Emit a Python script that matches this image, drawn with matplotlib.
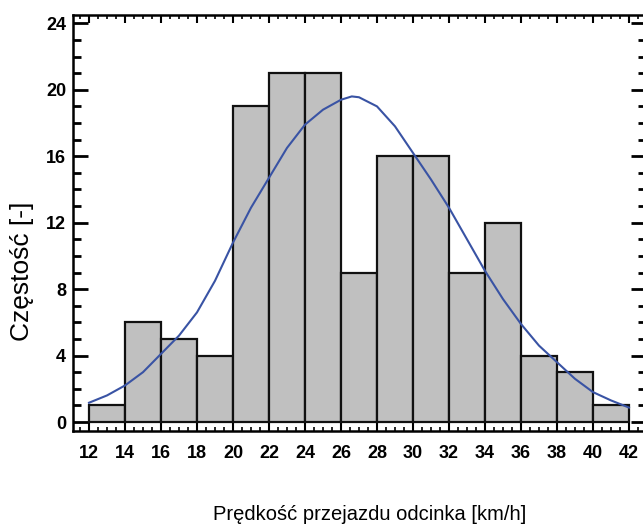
import numpy as np
import matplotlib
matplotlib.use('Agg')
import matplotlib.pyplot as plt
from matplotlib.ticker import MultipleLocator

plt.rcParams['font.family'] = ['Liberation Sans', 'DejaVu Sans']

# Histogram data
bin_edges = [12, 14, 16, 18, 20, 22, 24, 26, 28, 30, 32, 34, 36, 38, 40, 42]
counts = [1, 6, 5, 4, 19, 21, 21, 9, 16, 16, 9, 12, 4, 3, 1]

# Fitted curve
curve_x = [12, 13, 14, 15, 16, 17, 18, 19, 20, 21, 22, 23, 24, 25, 26, 26.6, 27,
           28, 29, 30, 31, 32, 33, 34, 35, 36, 37, 38, 39, 40, 41, 42]
curve_y = [1.16, 1.6, 2.2, 3.0, 4.1, 5.2, 6.6, 8.5, 10.8, 12.9, 14.7, 16.5,
           17.9, 18.8, 19.4, 19.6, 19.55, 19.0, 17.8, 16.2, 14.6, 12.9, 11.0, 9.1,
           7.4, 5.9, 4.6, 3.6, 2.6, 1.8, 1.3, 0.87]

xticks = list(range(12, 43, 2))
yticks = [0, 4, 8, 12, 16, 20, 24]

fig = plt.figure(figsize=(6.43, 5.27), dpi=100)
ax = fig.add_axes([0.1135, 0.1822, 0.891, 0.7893])

left = bin_edges[:-1]
widths = np.diff(bin_edges)
ax.bar(left, counts, width=widths, align='edge', color='#c0c0c0',
       edgecolor='#111111', linewidth=1.6, zorder=2)
ax.plot(curve_x, curve_y, color='#3953a4', linewidth=1.5, zorder=3)

ax.set_xlim(11.11, 42.94)
ax.set_ylim(-0.54, 24.5)

ax.set_xticks(xticks)
ax.set_yticks(yticks)
ax.xaxis.set_minor_locator(MultipleLocator(0.5))
ax.yaxis.set_minor_locator(MultipleLocator(1))

for s in ax.spines.values():
    s.set_linewidth(1.8)

ax.tick_params(axis='x', which='major', direction='in', top=True, bottom=True,
               length=6, width=1.5, pad=10)
ax.tick_params(axis='x', which='minor', direction='in', top=True, bottom=True,
               length=3, width=1.2)
ax.tick_params(axis='y', which='major', direction='in', left=True, right=True,
               length=11, width=2, pad=5)
ax.tick_params(axis='y', which='minor', direction='in', left=True, right=True,
               length=6, width=2)

for lbl in ax.get_xticklabels():
    lbl.set_fontweight('bold')
    lbl.set_fontsize(13)
for lbl in ax.get_yticklabels():
    lbl.set_fontweight('bold')
    lbl.set_fontsize(13)

ax.set_xlabel('Prędkość przejazdu odcinka [km/h]', fontsize=14.5, va='center')
ax.set_ylabel('Częstość [-]', fontsize=19, va='center')
ax.xaxis.set_label_coords(0.518, -0.2)
ax.yaxis.set_label_coords(-0.089, 0.384)

fig.savefig('out.png', dpi=100)
